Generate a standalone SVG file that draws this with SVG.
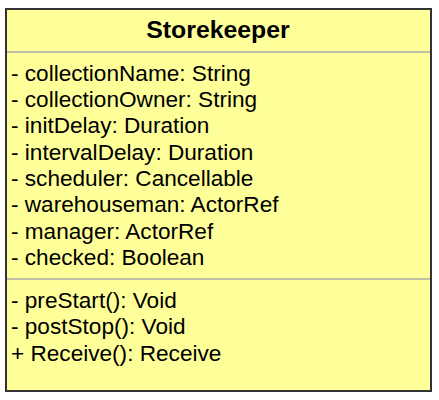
<svg xmlns="http://www.w3.org/2000/svg" width="439" height="400" viewBox="0 0 439 400">
<style>
.box{fill:#ffff99;stroke:#333333;stroke-width:2}
.div{stroke:#aaaaaa;stroke-width:1.5}
.t{font-family:"Liberation Sans",Arial,sans-serif;font-size:22.6px;fill:#000}
.title{font-family:"Liberation Sans",Arial,sans-serif;font-size:24.8px;font-weight:bold;fill:#000;text-anchor:middle}
</style>
<rect width="439" height="400" fill="#ffffff"/>
<g id="Storekeeper">
<rect class="box" x="6" y="9" width="425" height="382"/>
<text class="title" x="218" y="38">Storekeeper</text>
<line class="div" x1="7" y1="52" x2="430" y2="52"/>
<text class="t" x="11" y="80.5">- collectionName: String</text>
<text class="t" x="11" y="107">- collectionOwner: String</text>
<text class="t" x="11" y="133.3">- initDelay: Duration</text>
<text class="t" x="11" y="159.7">- intervalDelay: Duration</text>
<text class="t" x="11" y="186">- scheduler: Cancellable</text>
<text class="t" x="11" y="212.4">- warehouseman: ActorRef</text>
<text class="t" x="11" y="238.8">- manager: ActorRef</text>
<text class="t" x="11" y="265.2">- checked: Boolean</text>
<line class="div" x1="7" y1="279" x2="430" y2="279"/>
<text class="t" x="11" y="308">- preStart(): Void</text>
<text class="t" x="11" y="334.4">- postStop(): Void</text>
<text class="t" x="11" y="360.8">+ Receive(): Receive</text>
</g>
<g id="connectors"></g>
</svg>
